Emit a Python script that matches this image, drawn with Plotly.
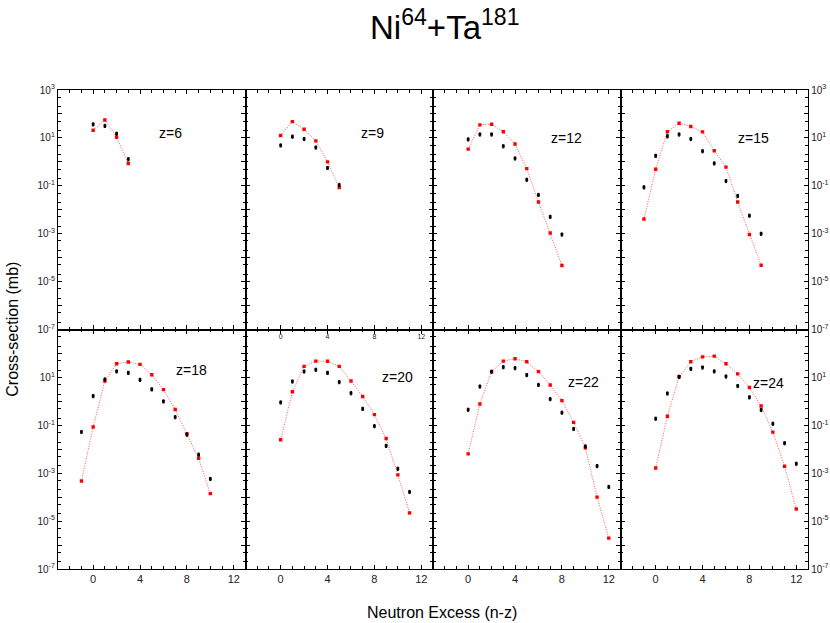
import plotly.graph_objects as go
from plotly.subplots import make_subplots

# ---------------- data (neutron excess, experimental, calculated) ----------------
z_labels = ["z=6", "z=9", "z=12", "z=15", "z=18", "z=20", "z=22", "z=24"]

n_z6 = [0, 1, 2, 3]
exp_z6 = [37, 32, 15, 1.3]
calc_z6 = [21, 56, 10.7, 0.85]

n_z9 = [0, 1, 2, 3, 4, 5]
exp_z9 = [4.9, 11.4, 9.1, 4.0, 0.56, 0.11]
calc_z9 = [12.6, 48, 23, 7.5, 1.0, 0.085]

n_z12 = [0, 1, 2, 3, 4, 5, 6, 7, 8]
exp_z12 = [8.7, 14, 14, 4.5, 1.4, 0.18, 0.042, 5.1e-3, 9.3e-4]
calc_z12 = [3.4, 35, 37, 18, 5.6, 0.52, 0.021, 1.07e-3, 4.7e-5]

n_z15 = [-1, 0, 1, 2, 3, 4, 5, 6, 7, 8, 9]
exp_z15 = [0.087, 1.8, 11.7, 14, 9.1, 2.8, 0.87, 0.16, 0.038, 5.7e-3, 1.0e-3]
calc_z15 = [4.1e-3, 0.49, 18, 41, 30, 17.8, 2.9, 0.6, 0.021, 9.3e-4, 4.8e-5]

n_z18 = [-1, 0, 1, 2, 3, 4, 5, 6, 7, 8, 9, 10]
exp_z18 = [0.053, 1.67, 8.3, 18, 15.6, 8.0, 3.2, 1.0, 0.22, 0.041, 6.0e-3, 5.8e-4]
calc_z18 = [4.7e-4, 0.085, 7.1, 37, 44, 35, 12.9, 3.1, 0.46, 0.045, 4.2e-3, 1.4e-4]

n_z20 = [0, 1, 2, 3, 4, 5, 6, 7, 8, 9, 10, 11]
exp_z20 = [0.91, 6.8, 17.8, 21, 15.6, 6.4, 2.2, 0.49, 0.093, 0.014, 1.55e-3, 1.66e-4]
calc_z20 = [0.025, 2.5, 29, 48, 47, 29, 7.1, 1.6, 0.28, 0.028, 8.5e-4, 2.2e-5]

n_z22 = [0, 1, 2, 3, 4, 5, 6, 7, 8, 9, 10, 11, 12]
exp_z22 = [0.45, 4.2, 17.4, 27, 24.5, 12.6, 4.9, 1.25, 0.34, 0.071, 0.0133, 2.0e-3, 2.7e-4]
calc_z22 = [6.4e-3, 0.78, 17.4, 48, 60, 45, 17.4, 4.8, 1.07, 0.133, 0.0115, 1.0e-4, 1.95e-6]

n_z24 = [0, 1, 2, 3, 4, 5, 6, 7, 8, 9, 10, 11, 12]
exp_z24 = [0.19, 2.15, 10.7, 23, 26, 18, 11, 4.4, 1.48, 0.44, 0.117, 0.018, 2.5e-3]
calc_z24 = [1.66e-3, 0.237, 10.7, 45, 72, 77, 37, 14, 3.8, 0.64, 0.052, 1.95e-3, 3.2e-5]

panels = [
    (n_z6, exp_z6, calc_z6), (n_z9, exp_z9, calc_z9),
    (n_z12, exp_z12, calc_z12), (n_z15, exp_z15, calc_z15),
    (n_z18, exp_z18, calc_z18), (n_z20, exp_z20, calc_z20),
    (n_z22, exp_z22, calc_z22), (n_z24, exp_z24, calc_z24),
]

x_ticks = [0, 4, 8, 12]
y_exponents = list(range(-7, 4))

# label positions inside each panel (fraction of panel domain)
label_pos = [(0.60, 0.82), (0.675, 0.82), (0.71, 0.80), (0.71, 0.80),
             (0.71, 0.83), (0.81, 0.80), (0.80, 0.78), (0.79, 0.775)]

FONT = "Arial, Liberation Sans, sans-serif"

fig = make_subplots(rows=2, cols=4, horizontal_spacing=0, vertical_spacing=0)

for i, (n, e, c) in enumerate(panels):
    r = i // 4 + 1
    col = i % 4 + 1
    fig.add_trace(go.Scatter(
        x=n, y=c, mode="lines+markers",
        line=dict(color="rgba(255,40,40,0.8)", width=1, dash="1px,1.5px"),
        marker=dict(symbol="square", size=3.4, color="red"),
        showlegend=False), row=r, col=col)
    fig.add_trace(go.Scatter(
        x=n, y=e, mode="markers",
        marker=dict(symbol="square", size=2.8, color="black"),
        error_y=dict(type="percent", value=15, color="black", thickness=1, width=1),
        showlegend=False), row=r, col=col)

for i in range(8):
    r = i // 4 + 1
    col = i % 4 + 1
    idx = "" if i == 0 else str(i + 1)
    # x axis
    show_x = (r == 2) or (i == 1)
    fig.update_xaxes(
        row=r, col=col, range=[-3, 13], tickmode="array", tickvals=x_ticks,
        ticktext=[str(v) for v in x_ticks], showticklabels=show_x,
        tickfont=dict(family=FONT, size=11 if r == 2 else 7, color="#222"),
        ticks="inside", ticklen=4, tickwidth=1, tickcolor="black",
        minor=dict(tickvals=list(range(-3, 14)), ticks="inside", ticklen=2.5,
                   tickcolor="black", showgrid=False),
        showline=True, linecolor="black", linewidth=1.3, mirror="allticks",
        showgrid=False, zeroline=False, automargin=False)
    # y axis
    if r == 1:
        ytext = [f"10<sup>{k}</sup>" if k % 2 != 0 else "" for k in y_exponents]
    else:
        ytext = [f"10<sup>{k}</sup>" if (k % 2 != 0 and k < 3) else "" for k in y_exponents]
    fig.update_yaxes(
        row=r, col=col, type="log", range=[-7, 3], tickmode="array",
        tickvals=[10.0 ** k for k in y_exponents], ticktext=ytext,
        showticklabels=(col in (1, 4)), side=("right" if col == 4 else "left"),
        tickfont=dict(family=FONT, size=10, color="#222"),
        ticks="inside", ticklen=4, tickwidth=1, tickcolor="black",
        minor=dict(dtick="D2", ticks="inside", ticklen=2.5, tickcolor="black", showgrid=False),
        showline=True, linecolor="black", linewidth=1.3, mirror="allticks",
        showgrid=False, zeroline=False, automargin=False)
    lx, ly = label_pos[i]
    fig.add_annotation(
        text=z_labels[i], xref=f"x{idx} domain", yref=f"y{idx} domain",
        x=lx, y=ly, showarrow=False, xanchor="center", yanchor="middle",
        font=dict(family=FONT, size=14, color="black"))

fig.add_annotation(
    text="Ni<sup>64</sup>+Ta<sup>181</sup>", xref="paper", yref="paper",
    x=0.516, y=1.135, showarrow=False, xanchor="center", yanchor="middle",
    font=dict(family=FONT, size=33, color="black"))
fig.add_annotation(
    text="Cross-section (mb)", xref="paper", yref="paper", textangle=-90,
    x=-0.061, y=0.5, showarrow=False, xanchor="center", yanchor="middle",
    font=dict(family=FONT, size=16, color="black"))
fig.add_annotation(
    text="Neutron Excess (n-z)", xref="paper", yref="paper",
    x=0.512, y=-0.09, showarrow=False, xanchor="center", yanchor="middle",
    font=dict(family=FONT, size=16, color="black"))

fig.update_layout(
    width=830, height=623, margin=dict(l=58, r=22, t=90, b=54, autoexpand=False),
    paper_bgcolor="white", plot_bgcolor="white", showlegend=False)

# remove the browser's default page margin so the figure fills the window
fig.write_html("out.html", config={"displayModeBar": False},
               post_script="document.body.style.margin='0';document.body.style.overflow='hidden';")
